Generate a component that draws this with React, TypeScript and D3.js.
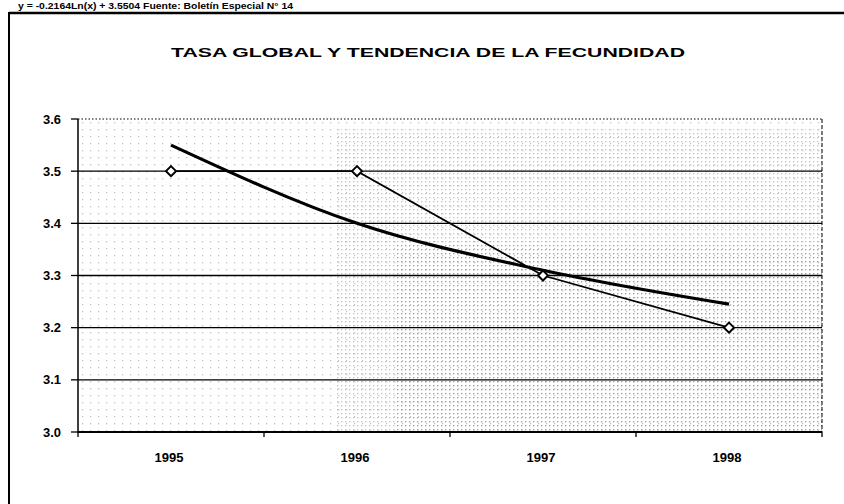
import * as d3 from 'd3'
import React from 'react'

const years = ['1995', '1996', '1997', '1998']
const tasa = [3.5, 3.5, 3.3, 3.2]
const tendencia = [3.55, 3.4, 3.31, 3.245]
const yTicks = [3.0, 3.1, 3.2, 3.3, 3.4, 3.5, 3.6]

const W = 844
const H = 504
const left = 78
const right = 822
const top = 119
const bottom = 432

const App = () => {
  const xBand = d3.scaleBand().domain(years).range([left, right])
  const x = (d: string) => (xBand(d) as number) + xBand.bandwidth() / 2
  const y = d3.scaleLinear().domain([3.0, 3.6]).range([bottom, top])

  const dataLine = d3.line<number>()
    .x((_, i) => x(years[i]))
    .y(d => y(d))

  const trendLine = d3.line<number>()
    .x((_, i) => x(years[i]))
    .y(d => y(d))
    .curve(d3.curveMonotoneX)

  const bandEdges = years.map(d => xBand(d) as number).concat([right])
  const font = 'Arial, "Liberation Sans", sans-serif'

  return (
    <svg width={W} height={H} style={{ position: 'absolute', left: 0, top: 0, background: '#fff' }}>
      <defs>
        <pattern id="dots" width="4" height="4" patternUnits="userSpaceOnUse">
          <rect x="1" y="1" width="1.3" height="1.3" fill="#555" />
        </pattern>
        <pattern id="dotsLight" width="8" height="7" patternUnits="userSpaceOnUse">
          <rect x="2" y="3" width="1.3" height="1.3" fill="#666" />
        </pattern>
      </defs>

      {/* header line at the top of the scan */}
      <text x={18} y={9} fontFamily={font} fontWeight="bold" fontSize={9} fill="#000"
        textLength={275} lengthAdjust="spacingAndGlyphs">
        y = -0.2164Ln(x) + 3.5504 Fuente: Boletín Especial N° 14
      </text>

      {/* frame */}
      <line x1={9} y1={13} x2={W} y2={13} stroke="#000" strokeWidth={2.5} />
      <line x1={9} y1={12} x2={9} y2={H} stroke="#000" strokeWidth={2} />

      <text x={428} y={57} textAnchor="middle" fontFamily={font} fontWeight="bold" fontSize={13.5}
        textLength={514} lengthAdjust="spacingAndGlyphs">
        TASA GLOBAL Y TENDENCIA DE LA FECUNDIDAD
      </text>

      {/* stippled fill from the scan */}
      <rect x={left} y={top} width={right - left} height={bottom - top} fill="url(#dotsLight)" opacity={0.4} />
      <rect x={x('1996') - 20} y={y(3.58)} width={right - x('1996') + 20} height={bottom - y(3.58)}
        fill="url(#dots)" opacity={0.35} />
      <rect x={x('1996') + 40} y={y(3.36)} width={right - x('1996') - 40} height={bottom - y(3.36)}
        fill="url(#dots)" opacity={0.35} />

      {/* gridlines */}
      {yTicks.slice(1, -1).map(t => (
        <line key={t} x1={left} x2={right} y1={y(t)} y2={y(t)} stroke="#000" strokeWidth={1.3} />
      ))}
      <line x1={left} x2={right} y1={top} y2={top} stroke="#000" strokeWidth={1} strokeDasharray="1.5 2" />
      <line x1={right} x2={right} y1={top} y2={bottom} stroke="#000" strokeWidth={1} strokeDasharray="4 2" />

      {/* axes */}
      <line x1={left} x2={left} y1={top} y2={bottom + 1} stroke="#000" strokeWidth={1.5} />
      <line x1={left} x2={right} y1={bottom} y2={bottom} stroke="#000" strokeWidth={1.8} />
      {yTicks.map(t => (
        <g key={t}>
          <line x1={left - 7} x2={left} y1={y(t)} y2={y(t)} stroke="#000" strokeWidth={1.3} />
          <text x={61} y={y(t) + 4.5} textAnchor="end" fontFamily={font} fontWeight="bold" fontSize={12}
            textLength={18} lengthAdjust="spacingAndGlyphs">
            {t.toFixed(1)}
          </text>
        </g>
      ))}
      {bandEdges.map((e, i) => (
        <line key={i} x1={e} x2={e} y1={bottom} y2={bottom + 5} stroke="#000" strokeWidth={1.3} />
      ))}
      {years.map(d => (
        <text key={d} x={x(d) - 2} y={462} textAnchor="middle" fontFamily={font} fontWeight="bold" fontSize={12}
          textLength={29} lengthAdjust="spacingAndGlyphs">
          {d}
        </text>
      ))}

      {/* series */}
      <path d={dataLine(tasa) ?? ''} fill="none" stroke="#000" strokeWidth={1.8} />
      {tasa.map((v, i) => {
        const cx = x(years[i])
        const cy = y(v)
        return (
          <path key={i} d={`M${cx},${cy - 5}L${cx + 5},${cy}L${cx},${cy + 5}L${cx - 5},${cy}Z`}
            fill="#fff" stroke="#000" strokeWidth={2} />
        )
      })}
      <path d={trendLine(tendencia) ?? ''} fill="none" stroke="#000" strokeWidth={3.2} />
    </svg>
  )
}

export default App
